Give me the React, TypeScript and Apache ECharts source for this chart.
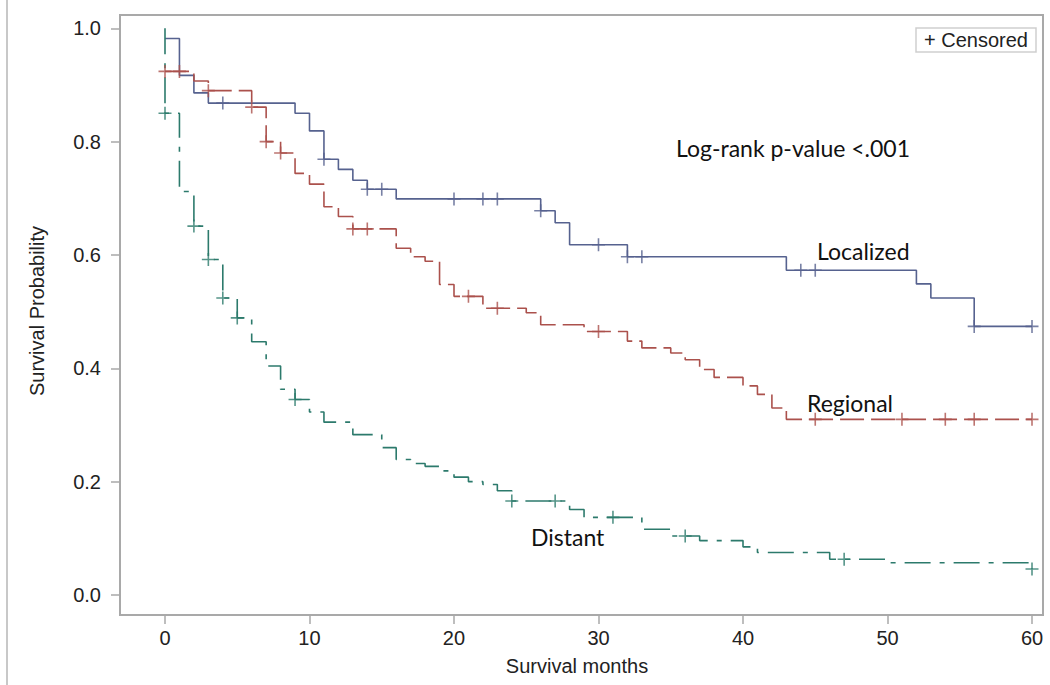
import React, { useEffect, useRef } from "react";
import * as echarts from "echarts";

// ---- Data ----
const xTicks = [0, 10, 20, 30, 40, 50, 60];
const yTicks = [0, 0.2, 0.4, 0.6, 0.8, 1.0];

// Kaplan-Meier steps: [month, survival after any event at that month]
const localizedSteps: [number, number][] = [
  [0, 0.982], [1, 0.917], [2, 0.886], [3, 0.868], [9, 0.85], [10, 0.819],
  [11, 0.769], [12, 0.751], [13, 0.732], [14, 0.716], [16, 0.699],
  [26, 0.678], [27, 0.657], [28, 0.618], [32, 0.597], [43, 0.573],
  [52, 0.549], [53, 0.524], [56, 0.474], [60, 0.474],
];
const localizedCensored = [4, 11, 14, 15, 20, 22, 23, 26, 30, 32, 33, 44, 45, 56, 60];

const regionalSteps: [number, number][] = [
  [0, 0.924], [2, 0.907], [3, 0.89], [6, 0.861], [7, 0.8], [8, 0.78],
  [9, 0.744], [10, 0.725], [11, 0.685], [12, 0.668], [13, 0.646],
  [16, 0.612], [17, 0.597], [18, 0.589], [19, 0.548], [20, 0.527],
  [22, 0.506], [25, 0.498], [26, 0.477], [29, 0.465], [32, 0.448],
  [33, 0.436], [35, 0.427], [36, 0.415], [37, 0.398], [38, 0.384],
  [40, 0.369], [41, 0.354], [42, 0.33], [43, 0.31], [60, 0.31],
];
const regionalCensored = [0, 1, 3, 6, 7, 8, 13, 14, 21, 23, 30, 45, 51, 54, 56, 60];

const distantSteps: [number, number][] = [
  [0, 1.0], [0, 0.85], [1, 0.712], [2, 0.651], [3, 0.592], [4, 0.524],
  [5, 0.489], [6, 0.447], [7, 0.404], [8, 0.363], [9, 0.345], [10, 0.323],
  [11, 0.305], [13, 0.283], [15, 0.26], [16, 0.239], [17, 0.232],
  [18, 0.227], [19, 0.219], [20, 0.208], [21, 0.2], [22, 0.195],
  [23, 0.184], [24, 0.166], [28, 0.151], [29, 0.137], [33, 0.116],
  [35, 0.104], [37, 0.096], [40, 0.085], [41, 0.075], [46, 0.063],
  [50, 0.057], [60, 0.046],
];
const distantCensored = [0, 2, 3, 4, 5, 9, 24, 27, 31, 36, 47, 60];

const groupNames = ["Localized", "Regional", "Distant"];
const annotationText = "Log-rank p-value <.001";
const legendText = "+ Censored";

// ---- helpers ----
function survAt(steps: [number, number][], t: number): number {
  let v = steps[0][1];
  for (const [tt, s] of steps) {
    if (tt <= t) v = s;
    else break;
  }
  return v;
}

const BLUE = "#56628f";
const RED = "#ab514c";
const TEAL = "#2c7a6c";
const FRAME = "#a9a9a9";
const PLUS = "path://M1,0L1,2M0,1L2,1";
const TICKFONT = "'Liberation Sans', Arial, sans-serif";
const ANNFONT = "Lato, 'Open Sans', sans-serif";

export default function App() {
  const ref = useRef<HTMLDivElement>(null);

  useEffect(() => {
    if (!ref.current) return;
    const chart = echarts.init(ref.current, undefined, { renderer: "svg" });

    const lineSeries = (name: string, steps: [number, number][], color: string, type: any) => ({
      name,
      type: "line",
      step: "end",
      data: steps,
      showSymbol: false,
      symbol: "none",
      lineStyle: { color, width: 1.6, type },
      z: 2,
    });
    const censorSeries = (name: string, steps: [number, number][], times: number[], color: string) => ({
      name: name + " censored",
      type: "scatter",
      data: times.map((t) => [t, survAt(steps, t)]),
      symbol: PLUS,
      symbolSize: 13,
      itemStyle: { color: "none", borderColor: color, borderWidth: 1.6 },
      z: 3,
    });

    const option: any = {
      animation: false,
      backgroundColor: "#ffffff",
      grid: {
        left: 120,
        top: 15,
        right: 7,
        bottom: 70,
        show: true,
        borderColor: FRAME,
        borderWidth: 2,
        backgroundColor: "transparent",
      },
      xAxis: {
        type: "value",
        min: -3.114,
        max: 60.761,
        splitLine: { show: false },
        axisLine: { show: true, onZero: false, lineStyle: { color: FRAME, width: 2 } },
        axisTick: { show: true, customValues: xTicks, length: 9, lineStyle: { color: FRAME, width: 1.5 } },
        axisLabel: {
          customValues: xTicks,
          margin: 13,
          fontSize: 20,
          fontFamily: TICKFONT,
          color: "#222",
        },
      },
      yAxis: {
        type: "value",
        min: -0.0353,
        max: 1.0235,
        splitLine: { show: false },
        axisLine: { show: true, onZero: false, lineStyle: { color: FRAME, width: 2 } },
        axisTick: { show: true, customValues: yTicks, length: 9, lineStyle: { color: FRAME, width: 1.5 } },
        axisLabel: {
          customValues: yTicks,
          margin: 19,
          fontSize: 20,
          fontFamily: TICKFONT,
          color: "#222",
          formatter: (v: number) => v.toFixed(1),
        },
      },
      series: [
        lineSeries(groupNames[0], localizedSteps, BLUE, "solid"),
        lineSeries(groupNames[1], regionalSteps, RED, [24, 7]),
        lineSeries(groupNames[2], distantSteps, TEAL, [26, 9, 5, 9]),
        censorSeries(groupNames[0], localizedSteps, localizedCensored, BLUE),
        censorSeries(groupNames[1], regionalSteps, regionalCensored, RED),
        censorSeries(groupNames[2], distantSteps, distantCensored, TEAL),
      ],
      graphic: [
        {
          type: "line",
          shape: { x1: 7, y1: 0, x2: 7, y2: 685 },
          style: { stroke: "#c8c8c8", lineWidth: 2 },
        },
        {
          type: "rect",
          shape: { x: 916, y: 28, width: 120, height: 24 },
          style: { fill: "#fff", stroke: "#cfcfcf", lineWidth: 1.5 },
          z: 10,
        },
        {
          type: "text",
          x: 976,
          y: 40,
          style: {
            text: legendText,
            fontSize: 20,
            fontFamily: TICKFONT,
            fill: "#222",
            textAlign: "center",
            textVerticalAlign: "middle",
          },
          z: 11,
        },
        {
          type: "text",
          x: 577,
          y: 666,
          style: {
            text: "Survival months",
            fontSize: 20,
            fontFamily: TICKFONT,
            fill: "#222",
            textAlign: "center",
            textVerticalAlign: "middle",
          },
        },
        {
          type: "text",
          x: 37,
          y: 311,
          rotation: Math.PI / 2,
          style: {
            text: "Survival Probability",
            fontSize: 20,
            fontFamily: TICKFONT,
            fill: "#222",
            textAlign: "center",
            textVerticalAlign: "middle",
          },
        },
        {
          type: "text",
          x: 676,
          y: 148,
          style: { text: annotationText, fontSize: 23, fontFamily: ANNFONT, fill: "#111", textVerticalAlign: "middle" },
        },
        {
          type: "text",
          x: 817,
          y: 251,
          style: { text: groupNames[0], fontSize: 23, fontFamily: ANNFONT, fill: "#111", textVerticalAlign: "middle" },
        },
        {
          type: "text",
          x: 807,
          y: 403,
          style: { text: groupNames[1], fontSize: 23, fontFamily: ANNFONT, fill: "#111", textVerticalAlign: "middle" },
        },
        {
          type: "text",
          x: 531,
          y: 537,
          style: { text: groupNames[2], fontSize: 23, fontFamily: ANNFONT, fill: "#111", textVerticalAlign: "middle" },
        },
      ],
    };

    chart.setOption(option);
    return () => chart.dispose();
  }, []);

  return (
    <div
      ref={ref}
      style={{ position: "fixed", left: 0, top: 0, width: 1050, height: 685, background: "#fff" }}
    />
  );
}
